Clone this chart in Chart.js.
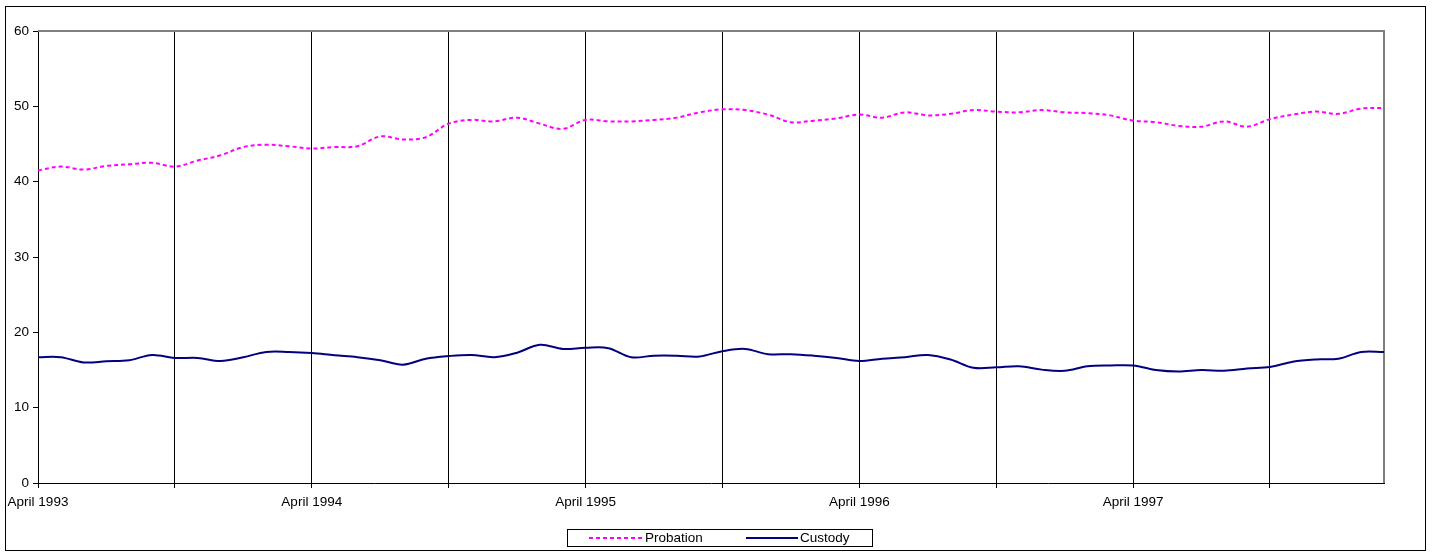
<!DOCTYPE html>
<html>
<head>
<meta charset="utf-8">
<script src="https://cdn.jsdelivr.net/npm/chart.js@4/dist/chart.umd.min.js"></script>
<style>
  html, body { margin: 0; padding: 0; background: #fff; }
  #wrap { width: 1432px; height: 552px; }
</style>
</head>
<body>
<div id="wrap"><canvas id="chart" width="1432" height="552"></canvas></div>
<script>
// Monthly series, April 1993 to March 1998
const monthNames = ['April', 'May', 'June', 'July', 'August', 'September',
    'October', 'November', 'December', 'January', 'February', 'March'];
const startYear = 1993;
const months = [];
for (let i = 0; i < 60; i++) {
    const year = startYear + Math.floor((i + 3) / 12);
    months.push(monthNames[i % 12] + ' ' + year);
}

const probation = [
    41.5, 42.0, 41.6, 42.1, 42.3, 42.5, 42.0, 42.8, 43.5, 44.6,
    44.9, 44.7, 44.4, 44.6, 44.7, 46.0, 45.6, 45.9, 47.7, 48.2,
    48.0, 48.5, 47.7, 47.0, 48.2, 48.0, 48.0, 48.2, 48.5, 49.2,
    49.6, 49.5, 48.9, 47.9, 48.1, 48.4, 48.9, 48.5, 49.2, 48.8,
    49.0, 49.5, 49.3, 49.2, 49.5, 49.2, 49.1, 48.8, 48.1, 47.9,
    47.4, 47.3, 48.0, 47.3, 48.3, 48.9, 49.3, 49.0, 49.7, 49.8
];

const custody = [
    16.7, 16.7, 16.0, 16.15, 16.3, 17.0, 16.6, 16.6, 16.2, 16.7,
    17.4, 17.4, 17.25, 16.95, 16.7, 16.3, 15.7, 16.5, 16.85, 17.0,
    16.7, 17.3, 18.35, 17.8, 17.95, 17.9, 16.7, 16.9, 16.9, 16.8,
    17.5, 17.8, 17.1, 17.1, 16.9, 16.6, 16.2, 16.5, 16.7, 17.0,
    16.4, 15.3, 15.35, 15.5, 15.05, 14.9, 15.5, 15.6, 15.6, 15.0,
    14.8, 15.0, 14.9, 15.2, 15.4, 16.1, 16.4, 16.5, 17.4, 17.4
];

const seriesNames = ['Probation', 'Custody'];
const seriesColors = ['#ff00ff', '#000080'];

Chart.defaults.font.family = '"Liberation Sans", Arial, sans-serif';
Chart.defaults.font.size = 13.5;
Chart.defaults.color = '#000';

// Outer frame, grey plot border and the boxed legend
const framePlugin = {
    id: 'frame',
    beforeDatasetsDraw(chart) {
        const { ctx, chartArea: a } = chart;
        ctx.save();
        ctx.strokeStyle = '#808080';
        ctx.lineWidth = 2;
        ctx.beginPath();
        ctx.moveTo(a.left, a.top);
        ctx.lineTo(a.right, a.top);
        ctx.lineTo(a.right, a.bottom);
        ctx.stroke();
        ctx.restore();
    },
    afterDraw(chart) {
        const ctx = chart.ctx;
        ctx.save();
        ctx.strokeStyle = '#000';
        ctx.lineWidth = 1;
        ctx.strokeRect(5.5, 6.5, 1420, 544);

        // legend
        ctx.strokeRect(567.5, 529.5, 305, 17);
        const items = [
            { x0: 589, x1: 643, tx: 645 },
            { x0: 746, x1: 798, tx: 800 }
        ];
        ctx.font = '13.5px "Liberation Sans", Arial, sans-serif';
        ctx.textBaseline = 'middle';
        chart.data.datasets.forEach((ds, i) => {
            const it = items[i];
            ctx.strokeStyle = ds.borderColor;
            ctx.lineWidth = 2;
            ctx.setLineDash(ds.borderDash || []);
            ctx.beginPath();
            ctx.moveTo(it.x0, 538);
            ctx.lineTo(it.x1, 538);
            ctx.stroke();
            ctx.setLineDash([]);
            ctx.fillStyle = '#000';
            ctx.fillText(ds.label, it.tx, 538.5);
        });
        ctx.restore();
    }
};

new Chart(document.getElementById('chart'), {
    type: 'line',
    data: {
        labels: months,
        datasets: [
            {
                label: seriesNames[0],
                data: probation,
                borderColor: seriesColors[0],
                borderWidth: 2,
                borderDash: [4, 3],
                pointRadius: 0,
                tension: 0.35,
                fill: false
            },
            {
                label: seriesNames[1],
                data: custody,
                borderColor: seriesColors[1],
                borderWidth: 2,
                pointRadius: 0,
                tension: 0.35,
                fill: false
            }
        ]
    },
    options: {
        responsive: false,
        animation: false,
        events: [],
        layout: {
            padding: { left: 5, top: 31, right: 48, bottom: 0 }
        },
        plugins: {
            legend: { display: false },
            tooltip: { enabled: false }
        },
        scales: {
            x: {
                type: 'category',
                offset: false,
                border: { color: '#000', width: 1 },
                grid: {
                    drawOnChartArea: true,
                    drawTicks: true,
                    tickLength: 5,
                    // a line every six months
                    color: ctx => (ctx.index % 6 === 0 ? '#000' : 'rgba(0,0,0,0)'),
                    tickColor: ctx => (ctx.index % 6 === 0 ? '#000' : 'rgba(0,0,0,0)')
                },
                ticks: {
                    autoSkip: false,
                    maxRotation: 0,
                    minRotation: 0,
                    padding: 6,
                    callback: (val, i) => (i % 12 === 0 ? months[i] : '')
                },
                afterFit: scale => { scale.height = 69; }
            },
            y: {
                min: 0,
                max: 60,
                border: { color: '#000', width: 1 },
                grid: {
                    drawOnChartArea: false,
                    drawTicks: true,
                    tickLength: 5,
                    color: '#000'
                },
                ticks: { stepSize: 10, padding: 4 },
                afterFit: scale => { scale.width = 33; }
            }
        }
    },
    plugins: [framePlugin]
});
</script>
</body>
</html>
